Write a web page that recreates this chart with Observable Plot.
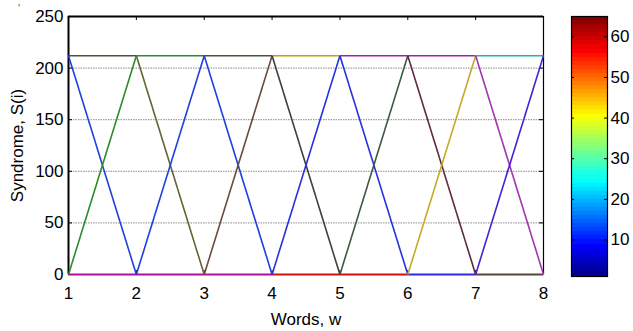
<!DOCTYPE html>
<html><head><meta charset="utf-8">
<script src="https://cdn.jsdelivr.net/npm/d3@7"></script>
<script src="https://cdn.jsdelivr.net/npm/@observablehq/plot@0.6"></script>
<style>
body{margin:0;background:#fff;}
#wrap{position:relative;width:633px;height:331px;font-family:"Liberation Sans",Arial,sans-serif;}
#wrap svg{position:absolute;left:0;top:0;}
#mark{position:absolute;left:18px;top:3px;font-size:11px;line-height:11px;color:#555;}
</style></head><body><div id="wrap"><span id="mark">'</span></div>
<script>
// ---- data ----
const words = [1, 2, 3, 4, 5, 6, 7, 8];
const high = 212, low = 0;
// colour of each segment between consecutive words
const topColors    = ["#4c5338", "#2a8a2a", "#4c5338", "#c9a200", "#a51fb0", "#a51fb0", "#25b3a3"];
const bottomColors = ["#b3109f", "#b3109f", "#b3109f", "#d0160f", "#d0160f", "#2a2ee0", "#5b4a3c"];
const upColors     = ["#2c8c2c", "#1f40e0", "#6b4c3c", "#2632e0", "#3c5a40", "#c4ab25", "#4a22d0"];
const downColors   = ["#1f40e0", "#636437", "#1f40e0", "#3e403c", "#2632e0", "#5e2c3e", "#a434b0"];
const yTicks = [0, 50, 100, 150, 200, 250];
const gridTicks = [50, 100, 150, 200];
const cbTicks = [10, 20, 30, 40, 50, 60];
const cbIndex = d3.range(1, 65);             // 64 colormap entries
const jetStops = [1, 8, 24, 40, 56, 64];
const jetColors = ["rgb(0,0,143)", "rgb(0,0,255)", "rgb(0,255,255)", "rgb(255,255,0)", "rgb(255,0,0)", "rgb(128,0,0)"];

// ---- build tables ----
const horiz = [], diag = [];
for (let i = 0; i < words.length - 1; i++) {
  const a = words[i], b = words[i + 1];
  horiz.push({x1: a, x2: b, y1: low, y2: low, c: bottomColors[i]});
  horiz.push({x1: a, x2: b, y1: high, y2: high, c: topColors[i]});
  diag.push({x1: a, x2: b, y1: high, y2: low, c: downColors[i]});
  diag.push({x1: a, x2: b, y1: low, y2: high, c: upColors[i]});
}
const jet = d3.scaleLinear().domain(jetStops).range(jetColors);

const W = 633, H = 331;
const mL = 68, mR = 90, mT = 16, mB = 57;
const plotW = W - mL - mR, plotH = H - mT - mB;
const font = "'Liberation Sans', Arial, sans-serif";

const main = Plot.plot({
  width: W, height: H,
  marginLeft: mL, marginRight: mR, marginTop: mT, marginBottom: mB,
  style: {fontFamily: font, fontSize: "17px", color: "#000", background: "transparent", overflow: "visible"},
  x: {domain: [1, 8]},
  y: {domain: [0, 250]},
  color: {type: "identity"},
  marks: [
    Plot.ruleY(gridTicks, {stroke: "#8a8a8a", strokeDasharray: "1.5,1"}),
    Plot.axisX(words, {tickSize: 0, tickPadding: 12, fontSize: 17, label: "Words, w", labelArrow: "none", labelAnchor: "center", labelOffset: 50}),
    Plot.axisY(yTicks, {tickSize: 0, tickPadding: 5, fontSize: 17, label: "Syndrome, S(i)", labelArrow: "none", labelAnchor: "center", labelOffset: 58}),
    Plot.ruleX(words.slice(1, -1), {stroke: "#000", insetBottom: plotH - 4}),
    Plot.ruleX(words.slice(1, -1), {stroke: "#000", insetTop: plotH - 4}),
    Plot.ruleY(gridTicks, {stroke: "#000", insetLeft: plotW - 4}),
    Plot.ruleY(gridTicks, {stroke: "#000", insetRight: plotW - 4}),
    Plot.ruleY([0], {stroke: "#000", strokeWidth: 1.5}),
    Plot.ruleX([1], {stroke: "#000", strokeWidth: 2}),
    Plot.ruleX([8], {stroke: "#000", strokeWidth: 1.2}),
    Plot.link(horiz, {x1: "x1", y1: "y1", x2: "x2", y2: "y2", stroke: "c", strokeWidth: 1.6}),
    Plot.link(diag, {x1: "x1", y1: "y1", x2: "x2", y2: "y2", stroke: "c", strokeWidth: 1.6}),
    Plot.ruleY([250], {stroke: "#000", strokeWidth: 2})
  ]
});

const cbL = 571, cbR = 26, cbT = 16, cbB = 55;
const cbW = W - cbL - cbR;
const cbar = Plot.plot({
  width: W, height: H,
  marginLeft: cbL, marginRight: cbR, marginTop: cbT, marginBottom: cbB,
  style: {fontFamily: font, fontSize: "17px", color: "#000", background: "transparent", overflow: "visible"},
  x: {domain: [0, 1], axis: null},
  y: {domain: [1, 65]},
  color: {type: "identity"},
  marks: [
    Plot.rect(cbIndex, {x1: 0, x2: 1, y1: d => d, y2: d => d + 1, fill: d => jet(d), shapeRendering: "crispEdges"}),
    Plot.ruleY(cbTicks, {stroke: "#000", insetLeft: cbW - 3}),
    Plot.ruleY(cbTicks, {stroke: "#000", insetRight: cbW - 3}),
    Plot.frame({stroke: "#000", strokeWidth: 1.2}),
    Plot.axisY(cbTicks, {anchor: "right", tickSize: 0, tickPadding: 3, fontSize: 17, label: null})
  ]
});

const wrap = document.getElementById("wrap");
wrap.appendChild(main);
wrap.appendChild(cbar);
</script>
</body></html>
